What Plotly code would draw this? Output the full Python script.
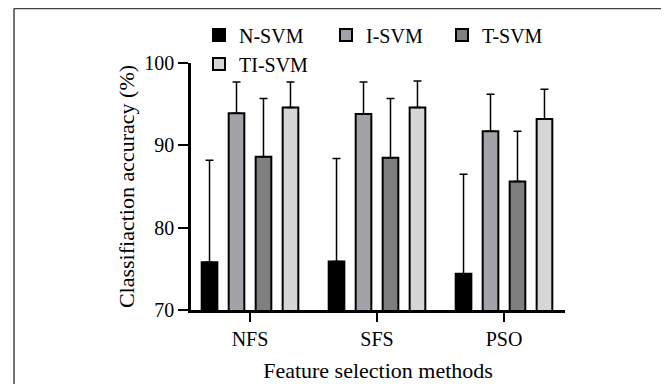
import plotly.graph_objects as go

categories = ["NFS", "SFS", "PSO"]
series_names = ["N-SVM", "I-SVM", "T-SVM", "TI-SVM"]
n_svm = [75.8, 75.9, 74.4]
i_svm = [93.9, 93.8, 91.7]
t_svm = [88.6, 88.5, 85.6]
ti_svm = [94.6, 94.6, 93.2]
n_svm_err = [12.4, 12.5, 12.1]
i_svm_err = [3.8, 3.9, 4.5]
t_svm_err = [7.1, 7.2, 6.1]
ti_svm_err = [3.1, 3.2, 3.6]
y_ticks = [70, 80, 90, 100]

colors = ["#000000", "#a2a2a8", "#7f7f7f", "#d6d6d6"]
values = [n_svm, i_svm, t_svm, ti_svm]
errors = [n_svm_err, i_svm_err, t_svm_err, ti_svm_err]
legend_ids = ["legend", "legend2", "legend3", "legend4"]

FONT = "Liberation Serif, Times New Roman, serif"
FS = 20
TFS = 22

fig = go.Figure()
for name, vals, errs, col, lg in zip(series_names, values, errors, colors, legend_ids):
    fig.add_trace(go.Bar(
        name=name, x=categories, y=vals,
        marker=dict(color=col, line=dict(color="#000000", width=2)),
        error_y=dict(type="data", array=errs, arrayminus=[0] * len(errs), symmetric=False,
                     color="#000000", thickness=1.5, width=4),
        legend=lg,
    ))

# page body has an 8px margin, so figure coords = screen coords - 8
L, R, T, B = 183, 104, 55, 74
W, H = 661, 376
pw, ph = W - L - R, H - T - B

def px(x):
    return (x - L) / pw

def py(y):
    return (H - B - y) / ph

def leg(xp, yp):
    return dict(orientation="h", x=px(xp), xanchor="left", y=py(yp), yanchor="middle",
                font=dict(family=FONT, size=FS), bgcolor="rgba(0,0,0,0)", itemwidth=30)

fig.update_layout(
    width=W, height=H,
    margin=dict(l=L, r=R, t=T, b=B, autoexpand=False),
    paper_bgcolor="white", plot_bgcolor="white",
    font=dict(family=FONT, size=FS, color="#000000"),
    barmode="group", bargap=0.15, bargroupgap=0.42,
    showlegend=True,
    legend=leg(191, 27),
    legend2=leg(318, 27),
    legend3=leg(434, 27),
    legend4=leg(191, 56),
    xaxis=dict(
        range=[(L - 242) / 127, (L + pw - 242) / 127],
        showline=True, linecolor="#000000", linewidth=2.5,
        ticks="outside", ticklen=9, tickwidth=2, tickcolor="#000000",
        tickfont=dict(family=FONT, size=FS), automargin=False,
        title=dict(text="Feature selection methods", font=dict(family=FONT, size=TFS), standoff=14),
        showgrid=False, zeroline=False,
    ),
    yaxis=dict(
        range=[70, 100], tickvals=y_ticks,
        showline=True, linecolor="#000000", linewidth=2.5,
        ticks="outside", ticklen=10, tickwidth=2, tickcolor="#000000",
        tickfont=dict(family=FONT, size=FS), automargin=False,
        title=dict(text="Classifiaction accuracy (%)", font=dict(family=FONT, size=TFS), standoff=4),
        showgrid=False, zeroline=False,
    ),
    shapes=[
        dict(type="line", xref="paper", yref="paper", x0=px(6), x1=px(6), y0=py(0.5), y1=py(376),
             line=dict(color="#444444", width=1.5)),
        dict(type="line", xref="paper", yref="paper", x0=px(6), x1=px(660), y0=py(0.5), y1=py(0.5),
             line=dict(color="#444444", width=1.5)),
        dict(type="line", xref="paper", yref="paper", x0=px(660), x1=px(660), y0=py(0.5), y1=py(376),
             line=dict(color="#444444", width=1.5)),
    ],
)

fig.write_html("out.html")
